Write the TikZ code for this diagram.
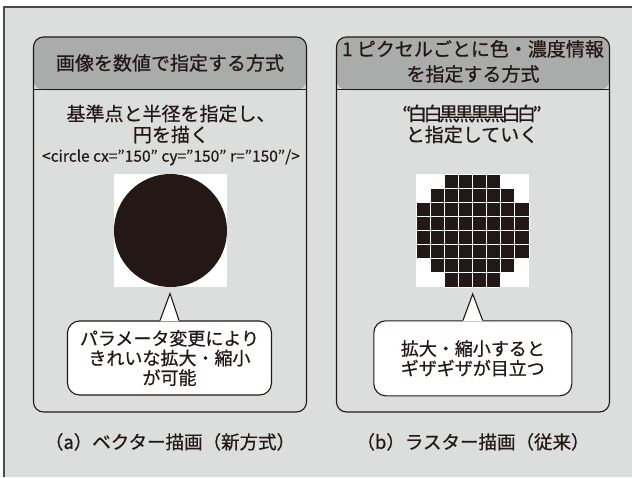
\documentclass[tikz,border=0pt]{standalone}
\usepackage{fontspec}
\setmainfont{Noto Sans CJK JP}[FakeBold=0.6]
\usepackage{xcolor}
\usetikzlibrary{positioning}
\definecolor{bggray}{HTML}{DCDDDD}
\definecolor{headgray}{HTML}{AAABAB}
\definecolor{ink}{HTML}{231815}
\definecolor{framecol}{HTML}{4A4A4A}
\tikzset{%
  panel/.style={draw=ink, line width=1.1pt, rounded corners=10pt, inner sep=0pt,
    minimum width=273pt, minimum height=375pt,
    path picture={\fill[headgray] (path picture bounding box.north west)
      rectangle ([yshift=-53pt]path picture bounding box.north east);}},
  headtext/.style={align=center, text=ink, font=\fontsize{19}{25}\selectfont},
  bodytext/.style={align=center, text=ink, font=\fontsize{19}{21}\selectfont},
  codetext/.style={text=ink, font=\fontsize{15.5}{18}\selectfont},
  image/.style={fill=white, minimum size=113pt, inner sep=0pt, outer sep=0pt},
  pixel/.style={fill=ink, draw=white, line width=0.8pt, minimum size=14.125pt, inner sep=0pt, outer sep=0pt},
  callout/.style={draw=ink, fill=white, line width=1.1pt, rounded corners=12pt, align=center,
    text=ink, font=\fontsize{18}{19.7}\selectfont},
  pointer/.style={draw=ink, line width=1.1pt, line join=miter},
  caption/.style={text=ink, font=\fontsize{18.5}{21}\selectfont}
}
\begin{document}
\begin{tikzpicture}[x=1pt, y=-1pt]
  \useasboundingbox (0,0) rectangle (632,477);
  \fill[bggray] (4,7) rectangle (632,477);
  \draw[framecol, line width=1.3pt] (4,477) -- (4,7) -- (632,7);

  % vector side
  \node[panel] (pa) at (170,224.5) {};
  \draw[ink, line width=1.1pt] ([yshift=-53pt]pa.north west) -- ([yshift=-53pt]pa.north east);
  \node[headtext] (hta) at ([yshift=-26.5pt]pa.north) {画像を数値で指定する方式};
  \node[bodytext] (bta) at (171,124) {基準点と半径を指定し、\\円を描く};
  \node[codetext, below=-1pt of bta] (code) {<circle cx="150" cy="150" r="150"/>};
  \node[image] (vimg) at (170.5,230.5) {};
  \node[circle, fill=ink, minimum size=113pt, inner sep=0pt] (disc) at (vimg) {};
  \node[callout, minimum width=204pt, minimum height=74pt] (ca) at (169.5,358) {パラメータ変更により\\きれいな拡大・縮小\\が可能};
  \coordinate (tipa) at (170,293.5);
  \fill[white] ([xshift=-9.5pt,yshift=-1pt]ca.north) -- (tipa) -- ([xshift=9.5pt,yshift=-1pt]ca.north) -- cycle;
  \draw[pointer] ([xshift=-9.5pt]ca.north) -- (tipa) -- ([xshift=9.5pt]ca.north);
  \node[caption, below=17pt of pa] (capa) {（a）ベクター描画（新方式）};

  % raster side
  \node[panel] (pb) at (473,224.5) {};
  \draw[ink, line width=1.1pt] ([yshift=-53pt]pb.north west) -- ([yshift=-53pt]pb.north east);
  \node[headtext] (htb) at ([yshift=-25pt]pb.north) {1 ピクセルごとに色・濃度情報\\を指定する方式};
  \node[bodytext] (btb) at (472,124) {{\addfontfeature{LetterSpace=-18}“白白黒黒黒黒白白”}\\と指定していく};
  \node[image] (rimg) at (472.5,230.5) {};
  \foreach \r/\a/\b in {0/2/5,1/1/6,2/0/7,3/0/7,4/0/7,5/0/7,6/1/6,7/2/5}
    \foreach \c in {\a,...,\b}
      \node[pixel] (px\r\c) at ({416+14.125*(\c+0.5)},{174+14.125*(\r+0.5)}) {};
  \node[callout, minimum width=198pt, minimum height=75pt] (cb) at (472.8,358.3) {拡大・縮小すると\\ギザギザが目立つ};
  \coordinate (tipb) at (472.7,294);
  \fill[white] ([xshift=-9.8pt,yshift=-1pt]cb.north) -- (tipb) -- ([xshift=9.8pt,yshift=-1pt]cb.north) -- cycle;
  \draw[pointer] ([xshift=-9.8pt]cb.north) -- (tipb) -- ([xshift=9.8pt]cb.north);
  \node[caption, below=17pt of pb] (capb) {（b）ラスター描画（従来）};
\end{tikzpicture}
\end{document}
